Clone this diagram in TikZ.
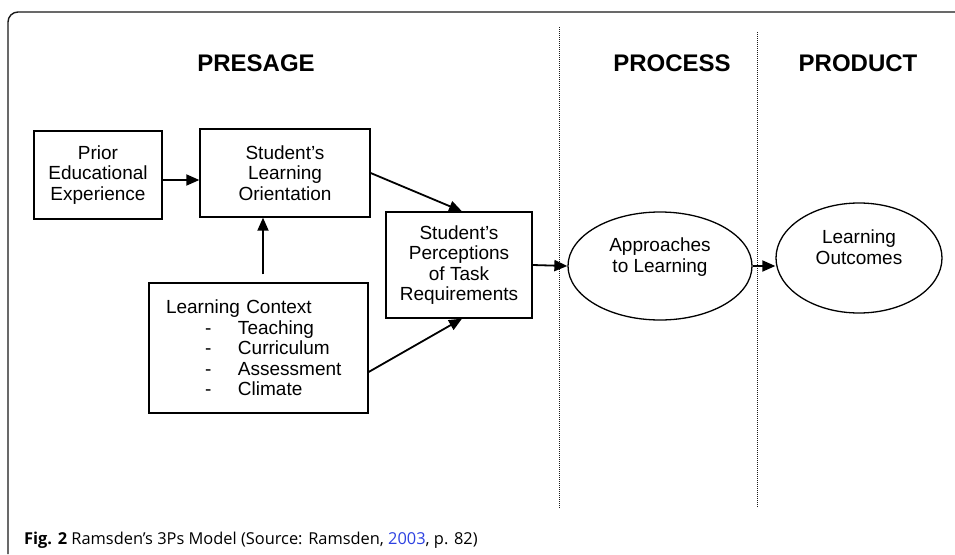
\documentclass[tikz,border=0pt]{standalone}
\usepackage{fontspec}
\setmainfont{Liberation Sans}
\newfontfamily\capfont{Open Sans}
\usepackage{xcolor}
\usetikzlibrary{shapes.geometric,arrows.meta,positioning}
\definecolor{linkblue}{RGB}{45,65,225}
\tikzstyle{arrow} = [line width=1.8pt,-{Triangle[length=13pt,width=11pt]}]
\tikzstyle{block} = [draw, rectangle, line width=1.3pt, align=center, inner sep=0pt, font=\fontsize{19}{20.5}\selectfont]
\tikzstyle{oval} = [draw, ellipse, line width=1.3pt, align=center, inner sep=0pt, text depth=22pt, font=\fontsize{19}{20.5}\selectfont]
\tikzstyle{phase} = [font=\fontsize{24}{28}\selectfont\bfseries]
\tikzstyle{divider} = [line width=1pt, dash pattern=on 1pt off 1pt, black!90]
\newcommand{\ctxitem}[1]{\hspace*{39pt}\makebox[33pt][l]{-}#1}

\begin{document}
\begin{tikzpicture}[x=1pt,y=-1pt]
    \useasboundingbox (0,0) rectangle (955,554);
    % frame
    \draw[line width=1.4pt, black!90, rounded corners=10pt] (955,12) -- (8,12) -- (8,554);
    % headings
    \node[phase] (presage) at (256,63) {PRESAGE};
    \node[phase] (process) at (672,63) {PROCESS};
    \node[phase] (product) at (858,63) {PRODUCT};
    \draw[divider] (559,27) -- (559,508);
    \draw[divider] (757,32) -- (757,508);
    % presage
    \node[block, minimum width=128pt, minimum height=88pt] (prior) at (98,175) {Prior\\Educational\\Experience};
    \node[block, minimum width=170pt, minimum height=88pt] (orient) at (285,173) {Student’s\\Learning\\Orientation};
    \node[block, align=left, text width=185pt, inner xsep=17pt, minimum height=130pt] (context) at (258.5,348)
        {Learning Context\\
         \ctxitem{Teaching}\\
         \ctxitem{Curriculum}\\
         \ctxitem{Assessment}\\
         \ctxitem{Climate}};
    \node[block, minimum width=146pt, minimum height=106pt] (percep) at (459,265) {Student’s\\Perceptions\\of Task\\Requirements};
    % process and product
    \node[oval, minimum width=184pt, minimum height=108pt] (approach) at (660,266) {Approaches\\to Learning};
    \node[oval, minimum width=166pt, minimum height=110pt] (outcome) at (859,258) {Learning\\Outcomes};
    % arrows
    \draw[arrow] ([yshift=-5pt]prior.east) -- ([yshift=-5pt]prior.east -| orient.west);
    \draw[arrow] ([xshift=4.5pt,yshift=8pt]context.north) -- ([xshift=4.5pt]context.north |- orient.south);
    \draw[arrow] (orient.east) -- ([xshift=3pt]percep.north);
    \draw[arrow] ([yshift=-24pt]context.east) -- ([xshift=3pt]percep.south);
    \draw[arrow] (percep.east) -- (approach.west);
    \draw[arrow] (approach.east) -- (approach.east -| outcome.west);
    % caption
    \node[anchor=base west, inner sep=0pt, font=\capfont\fontsize{16.4}{19}\selectfont] (caption) at (24,544)
        {\textbf{Fig. 2} Ramsden’s 3Ps Model (Source: Ramsden, \textcolor{linkblue}{2003}, p. 82)};
\end{tikzpicture}
\end{document}
